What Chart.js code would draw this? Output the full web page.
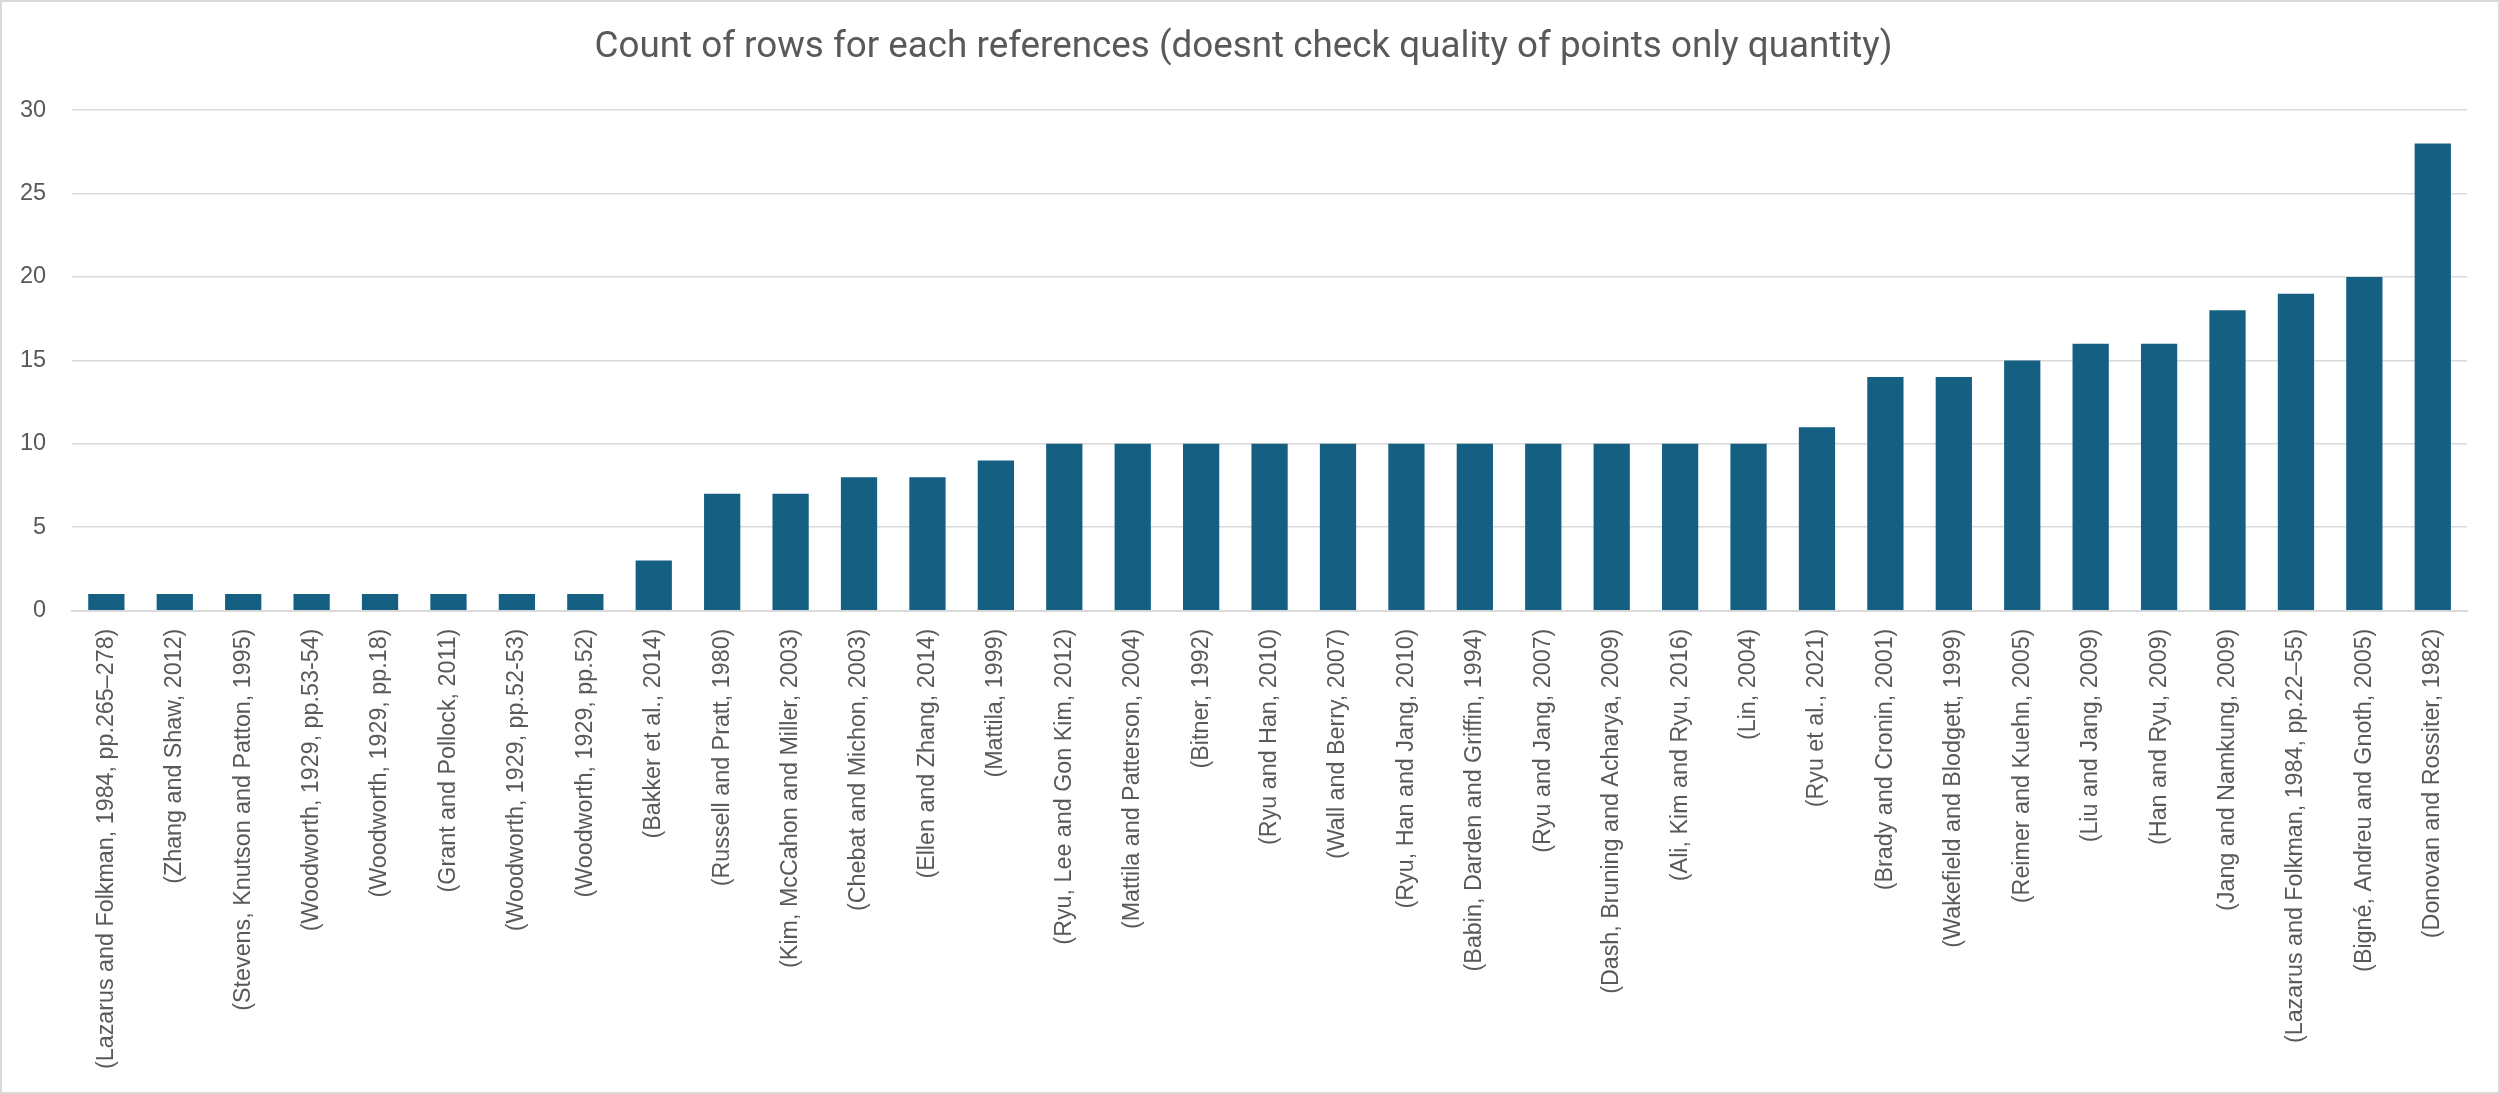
<!DOCTYPE html>
<html>
<head>
<meta charset="utf-8">
<script src="https://cdn.jsdelivr.net/npm/chart.js@4/dist/chart.umd.min.js"></script>
<style>
  html, body { margin: 0; padding: 0; background: #ffffff; }
  #wrap { width: 2500px; height: 1094px; position: relative; }
</style>
</head>
<body>
<div id="wrap"><canvas id="c" width="2500" height="1094"></canvas></div>
<script>
const chartTitle = "Count of rows for each references (doesnt check quality of points only quantity)";

const categories = [
  "(Lazarus and Folkman, 1984, pp.265\u2013278)",
  "(Zhang and Shaw, 2012)",
  "(Stevens, Knutson and Patton, 1995)",
  "(Woodworth, 1929, pp.53-54)",
  "(Woodworth, 1929, pp.18)",
  "(Grant and Pollock, 2011)",
  "(Woodworth, 1929, pp.52-53)",
  "(Woodworth, 1929, pp.52)",
  "(Bakker et al., 2014)",
  "(Russell and Pratt, 1980)",
  "(Kim, McCahon and Miller, 2003)",
  "(Chebat and Michon, 2003)",
  "(Ellen and Zhang, 2014)",
  "(Mattila, 1999)",
  "(Ryu, Lee and Gon Kim, 2012)",
  "(Mattila and Patterson, 2004)",
  "(Bitner, 1992)",
  "(Ryu and Han, 2010)",
  "(Wall and Berry, 2007)",
  "(Ryu, Han and Jang, 2010)",
  "(Babin, Darden and Griffin, 1994)",
  "(Ryu and Jang, 2007)",
  "(Dash, Bruning and Acharya, 2009)",
  "(Ali, Kim and Ryu, 2016)",
  "(Lin, 2004)",
  "(Ryu et al., 2021)",
  "(Brady and Cronin, 2001)",
  "(Wakefield and Blodgett, 1999)",
  "(Reimer and Kuehn, 2005)",
  "(Liu and Jang, 2009)",
  "(Han and Ryu, 2009)",
  "(Jang and Namkung, 2009)",
  "(Lazarus and Folkman, 1984, pp.22\u201355)",
  "(Bign\u00e9, Andreu and Gnoth, 2005)",
  "(Donovan and Rossiter, 1982)"
];

const counts = [1, 1, 1, 1, 1, 1, 1, 1, 3, 7, 7, 8, 8, 9, 10, 10, 10, 10, 10, 10, 10, 10, 10, 10, 10, 11, 14, 14, 15, 16, 16, 18, 19, 20, 28];

const yTicks = [0, 5, 10, 15, 20, 25, 30];

const borderPlugin = {
  id: 'chartBorder',
  beforeDraw(chart) {
    const ctx = chart.ctx;
    ctx.save();
    ctx.fillStyle = '#ffffff';
    ctx.fillRect(0, 0, chart.width, chart.height);
    ctx.strokeStyle = '#d9d9d9';
    ctx.lineWidth = 2;
    ctx.strokeRect(1, 1, chart.width - 2, chart.height - 2);
    ctx.restore();
  }
};

new Chart(document.getElementById('c'), {
  type: 'bar',
  data: {
    labels: categories,
    datasets: [{
      label: 'Count',
      data: counts,
      backgroundColor: '#156082',
      borderWidth: 0,
      barPercentage: 0.53,
      categoryPercentage: 1.0
    }]
  },
  options: {
    responsive: false,
    animation: false,
    devicePixelRatio: 1,
    layout: { padding: { left: 20, right: 33, top: 0, bottom: 7 } },
    plugins: {
      legend: { display: false },
      tooltip: { enabled: false },
      title: {
        display: true,
        text: chartTitle,
        color: '#595959',
        font: { family: 'Roboto', size: 36.8, weight: 'normal' },
        padding: { top: 26, bottom: 40 }
      }
    },
    scales: {
      x: {
        afterFit(scale) { scale.paddingLeft = 0; scale.paddingRight = 0; },
        grid: { display: false, drawTicks: false },
        border: { display: true, color: '#d9d9d9', width: 2 },
        ticks: {
          autoSkip: false,
          minRotation: 90,
          maxRotation: 90,
          padding: 18,
          color: '#595959',
          font: { family: 'Liberation Sans', size: 23.3 }
        }
      },
      y: {
        min: 0,
        max: 30,
        afterBuildTicks(scale) { scale.ticks = yTicks.map(v => ({ value: v })); },
        afterFit(scale) { scale.width = scale.width - scale.options.ticks.padding; },
        grid: { color: '#d9d9d9', lineWidth: 1.5, drawTicks: false },
        border: { display: false },
        ticks: {
          padding: 26,
          color: '#595959',
          font: { family: 'Liberation Sans', size: 23.5 }
        }
      }
    }
  },
  plugins: [borderPlugin]
});
</script>
</body>
</html>
